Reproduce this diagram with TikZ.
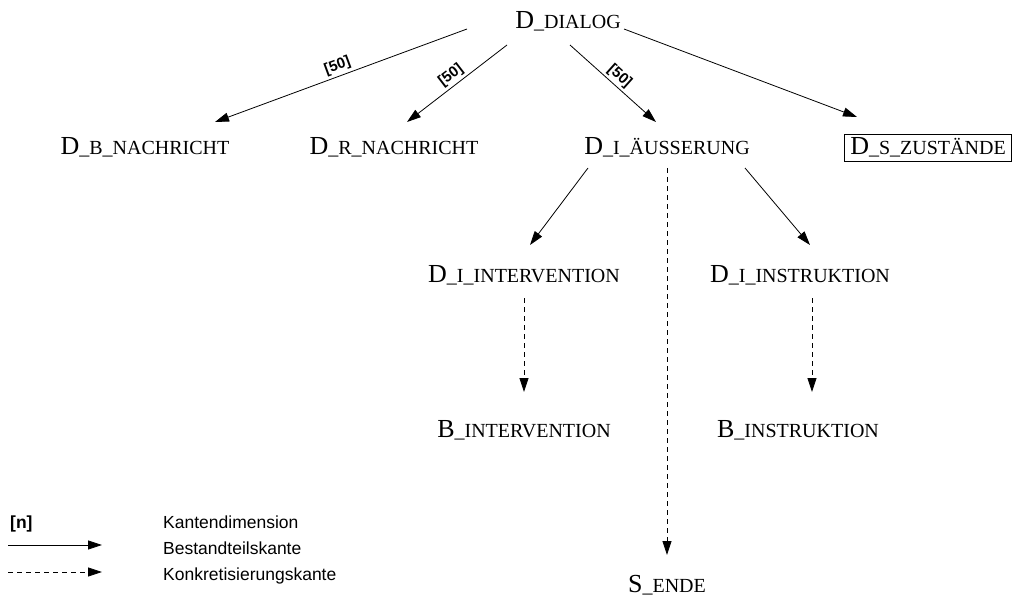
\documentclass[tikz,border=0pt]{standalone}
\usepackage{fontspec}
\setmainfont{Liberation Serif}
\newfontfamily\arialfont{Liberation Sans}
\usetikzlibrary{arrows.meta,calc}

% type name: large initial, rest in smaller capitals
\newcommand\tname[2]{{\fontsize{26}{26}\selectfont #1}{\fontsize{20}{20}\selectfont #2}}

\begin{document}
\begin{tikzpicture}[x=1pt,y=-1pt,
  tnode/.style={inner sep=0pt, anchor=base},
  edge/.style={-{Triangle[length=14pt,width=9pt]}, line width=0.8pt},
  konk/.style={edge, dash pattern=on 5pt off 4pt},
  dimlabel/.style={font=\arialfont\bfseries\fontsize{15}{15}\selectfont, sloped, above, inner sep=2.5pt, pos=0.5},
  legtext/.style={font=\arialfont\fontsize{17.5}{17.5}\selectfont, anchor=base west, inner sep=0pt}]
\useasboundingbox (0,0) rectangle (1023,599);

% nodes
\node[tnode] (dlg)  at (568,29)  {\tname{D}{\_DIALOG}};
\node[tnode] (bn)   at (145,155) {\tname{D}{\_B\_NACHRICHT}};
\node[tnode] (rn)   at (394,155) {\tname{D}{\_R\_NACHRICHT}};
\node[tnode] (iae)  at (667,155) {\tname{D}{\_I\_ÄUSSERUNG}};
\node[tnode, draw, line width=0.8pt, inner xsep=6pt, inner ysep=3.5pt,
      text height=17.5pt, text depth=2.5pt] (sz) at (928,155) {\tname{D}{\_S\_ZUSTÄNDE}};
\node[tnode] (iint) at (524,282) {\tname{D}{\_I\_INTERVENTION}};
\node[tnode] (iins) at (800,282) {\tname{D}{\_I\_INSTRUKTION}};
\node[tnode] (bint) at (524,437) {\tname{B}{\_INTERVENTION}};
\node[tnode] (bins) at (798,437) {\tname{B}{\_INSTRUKTION}};
\node[tnode] (send) at (667,592) {\tname{S}{\_ENDE}};

% Bestandteilskanten
\draw[edge] ($(dlg.base)+(-101,0)$) -- node[dimlabel] (l1) {[50]} ($(bn.base)+(70,-33)$);
\draw[edge] ($(dlg.base)+(-61,16)$) -- node[dimlabel] (l2) {[50]} ($(rn.base)+(13,-33)$);
\draw[edge] ($(dlg.base)+(2,16)$) -- node[dimlabel] (l3) {[50]} ($(iae.base)+(-11,-33)$);
\draw[edge] ($(dlg.base)+(56,0)$) -- ($(sz.base)+(-71,-38)$);
\draw[edge] ($(iae.base)+(-79,13)$) -- ($(iint.base)+(6,-37)$);
\draw[edge] ($(iae.base)+(78,13)$) -- ($(iins.base)+(10,-37)$);

% Konkretisierungskanten
\draw[konk] ($(iae.base)+(0,13)$) -- ($(send.base)+(0,-37)$);
\draw[konk] ($(iint.base)+(0,16)$) -- ($(bint.base)+(0,-45)$);
\draw[konk] ($(iins.base)+(12,16)$) -- ($(bins.base)+(14,-45)$);

% legend
\node[legtext] (lgn) at (10,528) {\bfseries [n]};
\node[legtext] (lgk) at (163,528) {Kantendimension};
\coordinate (lga1) at (8,545);
\coordinate (lga2) at (102,545);
\draw[edge] (lga1) -- (lga2);
\node[legtext] (lgb) at (163,554) {Bestandteilskante};
\coordinate (lgb1) at (8,572);
\coordinate (lgb2) at (102,572);
\draw[konk] (lgb1) -- (lgb2);
\node[legtext] (lgc) at (163,580) {Konkretisierungskante};
\end{tikzpicture}
\end{document}
